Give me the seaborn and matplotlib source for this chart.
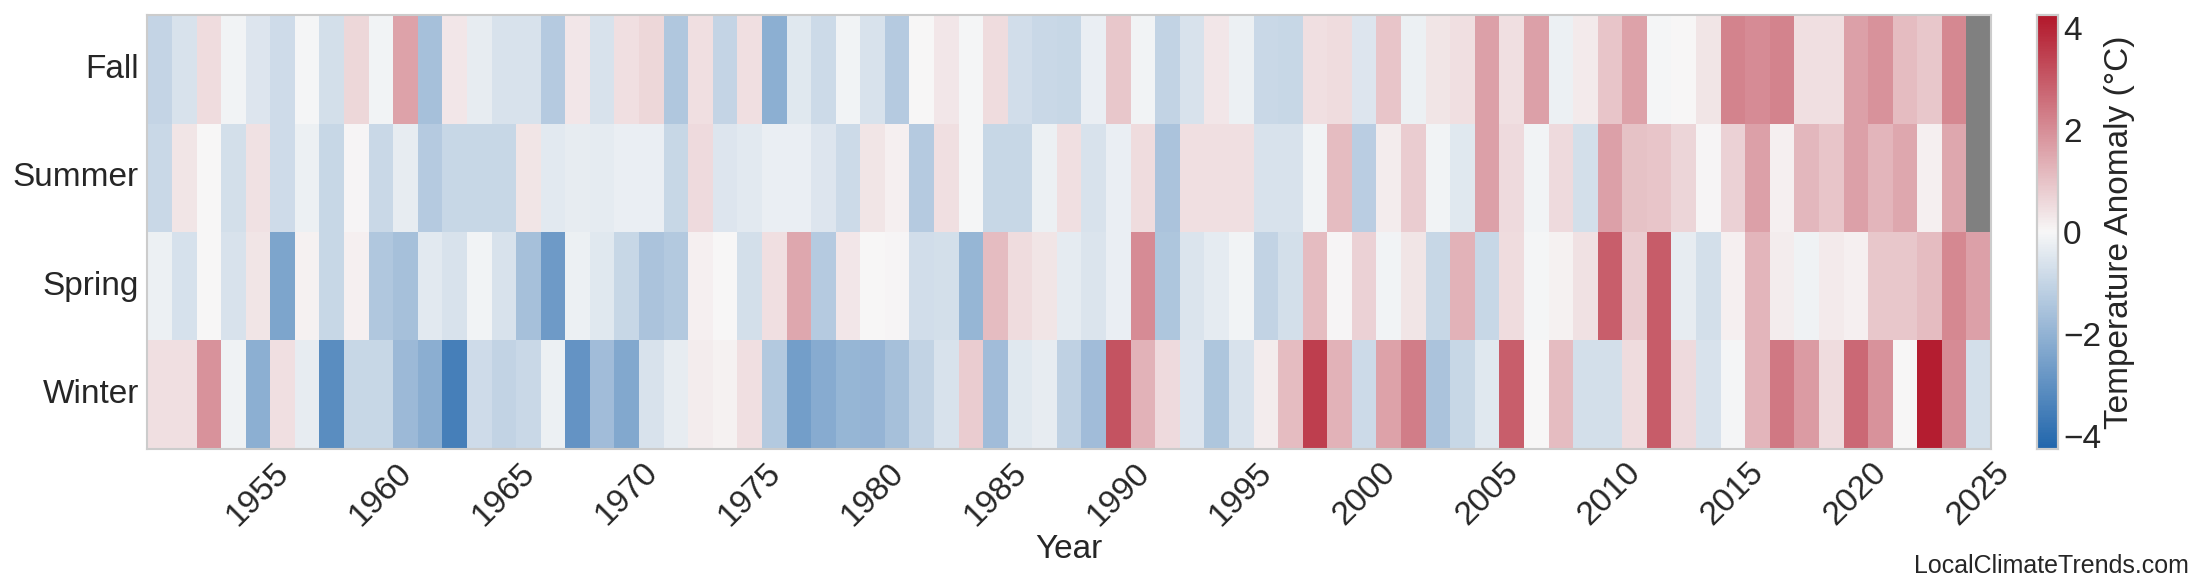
# seasonal temperature anomaly heatmap

import matplotlib.pyplot as plt
import numpy as np
import pandas as pd
import seaborn as sns
from matplotlib.colors import LinearSegmentedColormap

years = list(range(1951, 2026))
seasons = ["Fall", "Summer", "Spring", "Winter"]

fall = [
    -1.0, -0.6, 0.5, -0.1, -0.5, -0.8, -0.05, -0.7, 0.6, -0.1,
    1.6, -1.6, 0.3, -0.3, -0.6, -0.6, -1.3, 0.3, -0.6, 0.45,
    0.6, -1.4, 0.45, -1.0, 0.45, -2.1, -0.45, -0.85,
    -0.1, -0.6, -1.3, 0.0, 0.3, -0.05, 0.5, -0.75, -0.9, -0.95,
    -0.25, 0.9, -0.1, -1.05, -0.6, 0.3, -0.2, -0.9, -0.95, 0.45,
    0.5, -0.5, 0.95, -0.2, 0.35, 0.45, 1.65,
    0.45, 1.65, -0.2, 0.25, 0.95, 1.6, -0.05, 0.0, 0.35, 2.2,
    2.05, 2.2, 0.45, 0.45, 1.65, 1.9, 1.1, 0.9, 2.1, np.nan,
]
summer = [
    -0.9, 0.35, 0.0, -0.7, 0.4, -0.8, -0.2, -0.95, 0.05, -0.9,
    -0.3, -1.3, -0.95, -0.95, -0.95, 0.35, -0.4, -0.3, -0.35, -0.25,
    -0.25, -0.95, 0.55, -0.5, -0.4, -0.25, -0.25, -0.5,
    -0.85, 0.35, 0.15, -1.3, 0.45, -0.05, -0.95, -0.95, -0.2, 0.45,
    -0.6, -0.25, 0.5, -1.5, 0.45, 0.45, 0.45, -0.6, -0.6, -0.1,
    1.1, -1.2, 0.2, 0.8, -0.1, -0.45, 1.65,
    0.55, -0.1, 0.55, -0.7, 1.65, 1.0, 0.95, 0.65, 0.05, 0.7,
    1.65, 0.15, 1.2, 0.95, 1.65, 1.25, 1.5, 0.15, 1.5, np.nan,
]
spring = [
    -0.2, -0.65, 0.0, -0.6, 0.35, -2.4, 0.1, -0.95, 0.15, -1.4,
    -1.6, -0.4, -0.6, -0.1, -0.6, -1.6, -2.7, -0.2, -0.45, -0.95,
    -1.5, -1.35, 0.15, 0.0, -0.7, 0.45, 1.5, -1.3,
    0.3, 0.0, 0.05, -0.75, -0.7, -1.9, 1.1, 0.5, 0.35, -0.35,
    -0.55, -0.25, 2.05, -1.45, -0.55, -0.35, -0.1, -1.05, -0.7, 1.1,
    0.05, 0.7, -0.1, 0.35, -0.95, 1.3, -0.95,
    0.5, -0.05, 0.1, 0.4, 2.9, 0.8, 2.95, -0.3, -0.7, 0.15,
    1.25, 0.2, -0.15, 0.25, 0.15, 0.9, 0.9, 1.1, 2.1, 1.65,
]
winter = [
    0.45, 0.45, 1.9, -0.15, -2.1, 0.45, -0.3, -3.1, -0.95, -0.95,
    -1.8, -2.15, -3.5, -0.8, -1.05, -0.9, -0.2, -2.9, -1.7, -2.3,
    -0.6, -0.3, 0.2, 0.1, 0.45, -1.35, -2.6, -2.2,
    -1.9, -1.95, -1.6, -1.05, -0.6, 0.8, -1.7, -0.45, -0.3, -1.1,
    -1.7, 3.1, 1.3, 0.55, -0.5, -1.45, -0.6, 0.2, 1.1, 3.5,
    1.3, -0.85, 1.6, 2.3, -1.5, -0.95, -0.45,
    2.9, 0.0, 1.1, -0.7, -0.7, 0.5, 2.95, 0.55, -0.6, -0.05,
    1.25, 2.4, 1.75, 0.5, 2.7, 1.9, 0.02, 4.15, 2.05, -0.7,
]


def main():
    df = pd.DataFrame([fall, summer, spring, winter], index=seasons, columns=years)

    sns.set_theme(style="whitegrid")
    plt.rcParams["font.family"] = ["Arial", "Liberation Sans", "DejaVu Sans"]

    cmap = LinearSegmentedColormap.from_list("anom", ["#2166ac", "#f7f7f7", "#b2182b"])
    cmap.set_bad("#808080")

    fig = plt.figure(figsize=(22, 5.85), dpi=100)
    ax = fig.add_axes([0.067, 0.233, 0.838, 0.741])
    cax = fig.add_axes([0.926, 0.233, 0.0095, 0.741])

    sns.heatmap(df, ax=ax, cbar_ax=cax, cmap=cmap, vmin=-4.25, vmax=4.25,
                cbar_kws={"ticks": [-4, -2, 0, 2, 4]})

    tick_years = [y for y in years if y % 5 == 0]
    ax.set_xticks([years.index(y) + 0.5 for y in tick_years])
    ax.set_xticklabels(tick_years, rotation=45, fontsize=24)
    ax.set_yticklabels(seasons, rotation=0, fontsize=24)
    ax.tick_params(length=0, pad=6)
    ax.set_xlabel("Year", fontsize=24, labelpad=2)
    ax.set_ylabel("")
    for s in ax.spines.values():
        s.set_visible(True)
        s.set_color("#cccccc")
        s.set_linewidth(1.5)

    cax.tick_params(labelsize=24, length=0)
    cax.set_ylabel("Temperature Anomaly (°C)", fontsize=24, labelpad=2)
    for s in cax.spines.values():
        s.set_visible(True)
        s.set_color("#cccccc")
        s.set_linewidth(1.5)

    fig.text(0.995, 0.012, "LocalClimateTrends.com", ha="right", va="bottom", fontsize=18)
    fig.savefig("out.png", dpi=100)
    plt.close()


if __name__ == "__main__":
    main()
